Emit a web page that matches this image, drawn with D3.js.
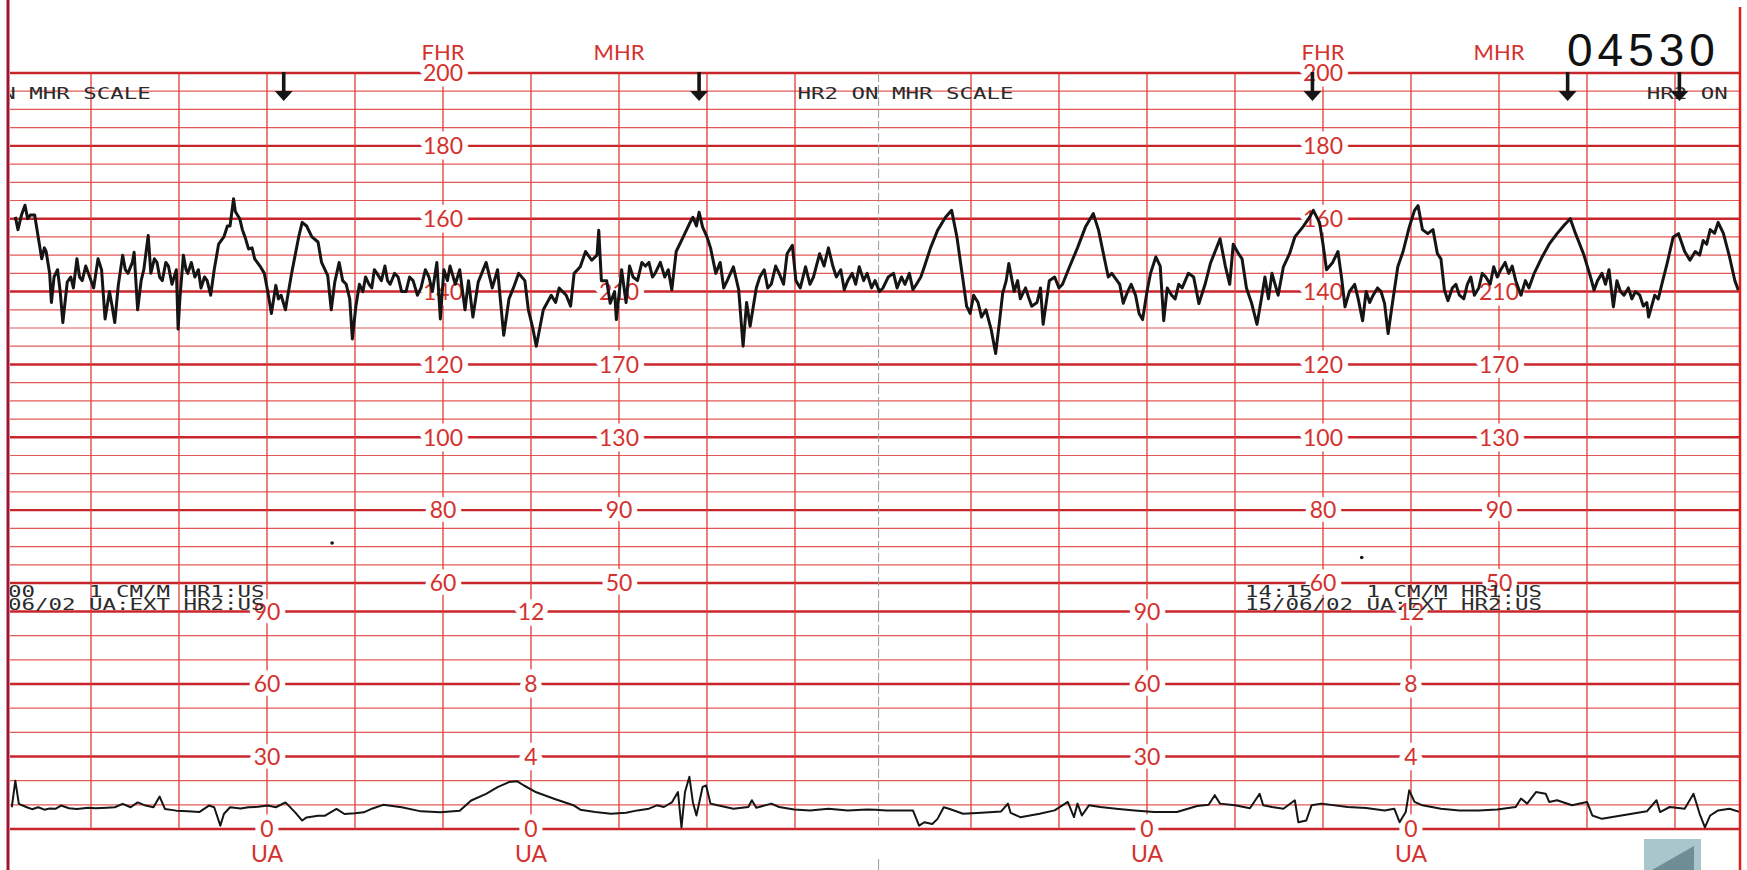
<!DOCTYPE html>
<html>
<head>
<meta charset="utf-8">
<script src="https://cdn.jsdelivr.net/npm/d3@7"></script>
<style>
html, body { margin: 0; padding: 0; background: #fff; }
svg { display: block; }
</style>
</head>
<body>
<div id="chart"></div>
<script>

// foetal heart rate trace, [minute, bpm]
var fhr = [
 [0.14,160.5],[0.17,157],[0.21,161],[0.25,163.7],[0.28,160],[0.31,161],[0.36,161],[0.40,155],[0.44,149],[0.47,152],
 [0.49,151],[0.53,145],[0.55,137],[0.58,144],[0.62,146],[0.65,140],[0.68,131.5],[0.73,142.6],[0.77,144],[0.80,141],
 [0.84,149],[0.87,144],[0.90,143],[0.94,147],[0.97,145],[1.03,141],[1.08,149],[1.12,146],[1.16,132.5],[1.21,140],
 [1.24,136],[1.27,131.5],[1.31,141.7],[1.36,150],[1.39,146],[1.42,145],[1.47,148],[1.49,150.8],[1.53,135],[1.57,143],
 [1.60,146],[1.65,155.4],[1.68,145],[1.72,149],[1.75,148],[1.78,144],[1.81,143],[1.85,148],[1.88,147],[1.92,142],
 [1.97,146],[1.99,129.7],[2.01,138],[2.05,150],[2.08,146],[2.10,145],[2.14,148],[2.18,144],[2.22,146],[2.25,141],
 [2.29,144],[2.32,143],[2.36,139],[2.40,146],[2.45,153],[2.51,155],[2.55,158],[2.58,158],[2.62,165.5],[2.64,162],
 [2.69,160],[2.72,157],[2.75,155],[2.79,151.7],[2.83,152],[2.86,149],[2.92,147],[2.97,145],[3.01,139.8],[3.05,134],
 [3.10,141.7],[3.13,138],[3.16,139],[3.21,135],[3.23,138],[3.28,145],[3.32,150],[3.36,155],[3.40,159],[3.45,158],
 [3.51,155],[3.58,153.6],[3.62,148],[3.69,144.4],[3.73,135],[3.77,142.6],[3.82,148],[3.86,143],[3.90,142],[3.94,138],
 [3.97,127],[4.01,136],[4.05,142],[4.09,140],[4.12,144],[4.16,142],[4.19,141],[4.22,146],[4.25,145],[4.30,143],
 [4.34,147],[4.37,143],[4.40,142],[4.45,145],[4.49,144],[4.53,140],[4.58,140],[4.62,144],[4.66,143],[4.71,139],
 [4.75,141],[4.80,146],[4.84,144],[4.88,140],[4.93,148],[4.97,132.5],[5.01,146],[5.05,143],[5.08,147],[5.14,142],
 [5.19,146],[5.25,135],[5.29,143],[5.34,133],[5.40,142.6],[5.44,145],[5.49,148],[5.56,141],[5.62,146],[5.69,128],
 [5.75,138],[5.80,141],[5.86,145],[5.93,143],[5.97,135],[6.02,130],[6.06,125],[6.14,135],[6.23,139],[6.28,137],
 [6.32,141],[6.40,139],[6.45,136],[6.49,145],[6.56,146.8],[6.62,151],[6.69,148.6],[6.75,150],[6.77,156.8],[6.80,143],
 [6.86,143],[6.90,136.8],[6.95,140],[6.97,132.3],[7.03,146],[7.08,137],[7.12,147],[7.16,144],[7.21,143],[7.26,148],
 [7.30,147],[7.34,148],[7.38,144],[7.41,145],[7.47,148],[7.52,144],[7.56,146],[7.60,140.5],[7.65,151],[7.73,155],
 [7.80,158.6],[7.84,160.4],[7.88,158],[7.91,161.8],[7.95,157.7],[8.00,155],[8.04,152],[8.10,145],[8.15,148],[8.19,141],
 [8.23,143],[8.30,146.8],[8.36,140.5],[8.41,125],[8.45,137],[8.49,130.5],[8.56,141],[8.60,144],[8.65,146],[8.69,141],
 [8.73,142],[8.78,147],[8.82,145],[8.87,142],[8.91,150.4],[8.97,152.7],[9.01,143],[9.06,141],[9.12,146.8],[9.17,142],
 [9.21,144],[9.28,150.4],[9.33,147],[9.38,152],[9.43,147],[9.47,144],[9.52,146],[9.56,140.5],[9.60,143],[9.65,145],
 [9.69,142],[9.73,146.8],[9.78,143],[9.82,145],[9.87,141],[9.91,143],[9.96,140],[10.0,141],[10.06,144],[10.12,145],
 [10.16,141],[10.21,144],[10.25,142],[10.30,145],[10.34,140.5],[10.38,142],[10.43,144],[10.47,146.8],[10.54,152],
 [10.62,156.8],[10.71,160.4],[10.78,162.3],[10.84,155],[10.91,143],[10.95,136],[10.99,134],[11.03,139],[11.08,137],
 [11.12,133],[11.17,135],[11.23,129.5],[11.28,123],[11.32,131],[11.36,139.5],[11.40,143],[11.43,147.7],[11.49,140],
 [11.53,143],[11.56,138],[11.62,141],[11.66,138],[11.69,136],[11.75,137],[11.79,141],[11.82,131],[11.89,143],
 [11.95,144],[12.00,141],[12.04,142],[12.12,146.8],[12.21,152],[12.30,157.7],[12.39,161.4],[12.45,156.8],[12.52,148.6],
 [12.56,144],[12.60,145],[12.69,142],[12.73,136.8],[12.78,140],[12.82,142],[12.87,139],[12.91,134],[12.95,132.3],
 [13.00,140],[13.04,145],[13.10,149.5],[13.15,147],[13.19,132],[13.23,141],[13.28,139],[13.32,138],[13.36,142],
 [13.40,141],[13.47,145],[13.53,144],[13.59,136.7],[13.66,142],[13.72,147.7],[13.79,152],[13.83,154.5],[13.89,147],
 [13.94,142],[13.98,153],[14.04,150.4],[14.08,149],[14.13,141],[14.19,136.7],[14.25,131],[14.30,138],[14.34,144],
 [14.38,138],[14.42,145],[14.49,139],[14.55,146.8],[14.62,150.4],[14.68,155],[14.77,157.7],[14.85,160.5],[14.89,162.3],
 [14.96,159],[15.00,153],[15.04,146],[15.11,148],[15.17,151],[15.21,144],[15.25,135.8],[15.30,140],[15.36,142],
 [15.40,138],[15.45,132],[15.49,140],[15.53,137],[15.57,139],[15.62,141],[15.66,140],[15.70,136.7],[15.74,128.5],
 [15.79,137],[15.85,146.8],[15.91,151],[15.98,157.7],[16.04,162.3],[16.08,163.6],[16.13,157],[16.19,155.9],[16.25,157],
 [16.30,150.4],[16.34,149],[16.38,140.4],[16.42,137.5],[16.47,141],[16.51,142],[16.55,139],[16.60,138],[16.64,142],
 [16.68,144],[16.72,139],[16.77,141],[16.81,145],[16.85,144],[16.90,142],[16.94,146.8],[16.98,144],[17.02,146],
 [17.07,148],[17.11,145],[17.15,147],[17.19,143],[17.25,139],[17.30,143],[17.34,141],[17.40,145],[17.49,149.5],
 [17.57,153],[17.66,155.9],[17.74,158.2],[17.81,160],[17.87,155.9],[17.96,150.4],[18.04,144],[18.08,140.4],[18.12,143],
 [18.17,145],[18.21,142],[18.25,146],[18.30,135.8],[18.34,143],[18.38,140],[18.42,139],[18.47,141],[18.51,138],
 [18.55,140],[18.60,139],[18.64,136],[18.68,137],[18.70,133],[18.77,139],[18.81,138],[18.85,142],[18.91,147.7],
 [18.98,155],[19.04,155.9],[19.11,151],[19.17,148.6],[19.23,151],[19.28,150],[19.32,154],[19.36,153],[19.40,157],
 [19.45,156],[19.49,159],[19.55,156],[19.62,149.5],[19.68,143],[19.72,140.4]
];

// uterine activity trace, [minute, mmHg]
var ua = [
 [0.10,9],[0.14,20],[0.18,10.4],[0.27,9],[0.33,8.2],[0.40,9],[0.47,8],[0.53,8.5],[0.60,8.4],[0.66,9.7],[0.75,8.6],
 [0.84,8.3],[0.97,8.8],[1.05,8.6],[1.18,8.8],[1.27,9],[1.36,10.4],[1.45,9],[1.53,11],[1.62,9.7],[1.71,9],[1.78,13.4],
 [1.84,8.3],[1.97,7.6],[2.10,7.3],[2.23,7],[2.34,9.7],[2.40,9],[2.47,1.4],[2.51,6.2],[2.58,9],[2.70,8.5],[2.79,9],
 [2.90,9.2],[3.01,9.7],[3.10,9],[3.21,11],[3.32,6.9],[3.40,3.5],[3.45,4.8],[3.58,5.5],[3.66,5.5],[3.79,8.3],[3.88,6.2],
 [4.00,6.5],[4.10,6.9],[4.20,8.5],[4.32,10],[4.53,9],[4.75,7.3],[4.97,6.9],[5.19,7.6],[5.32,11.8],[5.49,14.5],
 [5.62,17.3],[5.75,19.4],[5.84,19.8],[5.92,18],[6.06,15.2],[6.27,12.4],[6.49,9.7],[6.56,8],[6.73,7],[6.91,6.3],
 [7.08,6.7],[7.21,7.7],[7.34,8.4],[7.43,9.8],[7.51,9.1],[7.60,11],[7.67,15.3],[7.71,0.7],[7.75,15.3],[7.80,21.6],
 [7.84,11],[7.88,5.6],[7.95,17.4],[7.99,18],[8.04,10.5],[8.12,9.8],[8.30,8.4],[8.47,9.1],[8.51,11.9],[8.56,8.8],
 [8.73,10.5],[8.82,9.1],[8.99,8.1],[9.17,7.7],[9.38,8.4],[9.60,7.7],[9.82,8.1],[9.91,8],[10.04,7.7],[10.34,7.7],
 [10.41,1.4],[10.47,2.8],[10.56,2.1],[10.62,4.2],[10.69,9],[10.75,8.4],[10.91,6.3],[11.12,6.7],[11.34,7.2],[11.42,10.5],
 [11.45,6.7],[11.56,4.9],[11.78,6.3],[11.95,7.7],[12.10,11.2],[12.17,4.9],[12.21,10.5],[12.26,5.6],[12.34,9.8],
 [12.47,9.1],[12.65,8.4],[12.86,7.7],[13.08,7],[13.34,7],[13.57,9.5],[13.70,10],[13.77,14],[13.83,10.5],[14.00,9.8],
 [14.17,8.6],[14.28,14.6],[14.32,9.8],[14.42,9.1],[14.55,8.4],[14.68,11.9],[14.72,2.8],[14.81,3.5],[14.87,9.8],
 [14.98,10.5],[15.28,9.1],[15.49,8.7],[15.70,7.7],[15.81,8.4],[15.87,2.8],[15.94,7],[15.98,16],[16.04,11.2],[16.13,9.8],
 [16.34,8.4],[16.55,7.7],[16.77,7.7],[16.98,8.1],[17.19,9.1],[17.25,12.6],[17.32,10.5],[17.42,15.3],[17.53,14.6],
 [17.57,11.2],[17.66,11.9],[17.83,9.8],[18.00,11.2],[18.06,5.6],[18.17,4.2],[18.34,5.3],[18.51,6.3],[18.68,7.3],
 [18.79,11.9],[18.83,7],[18.94,9.1],[19.11,8.4],[19.21,14.6],[19.28,6.3],[19.34,0.7],[19.40,5.6],[19.49,7.7],
 [19.62,8.4],[19.74,7]
];

// scale labels of the printed paper
var fhrTicks = [200, 180, 160, 140, 120, 100, 80, 60];
var mhrTicks = [210, 170, 130, 90, 50];
var uaTicks = [90, 60, 30, 0];
var kpaTicks = [12, 8, 4, 0];

// each page repeats the labels, minutes of the label columns
var pageOffsets = [0, 10];
var fhrColumn = 5, mhrColumn = 7, uaColumn = 3, kpaColumn = 6;

// event marks (arrows) and stray print dots
var markTimes = [3.19, 7.91, 14.88, 17.78, 19.05];
var printDots = [[3.74, 71], [15.44, 67]];

// printer notes
var topNotes = [
    {t: 1.68, anchor: 'end', text: 'HR2 ON MHR SCALE'},
    {t: 9.03, anchor: 'start', text: 'HR2 ON MHR SCALE'},
    {t: 18.68, anchor: 'start', text: 'HR2 ON'}
];
var bottomNotes = [
    {t: 2.97, anchor: 'end', lines: ['14:00    1 CM/M HR1:US', '15/06/02 UA:EXT HR2:US']},
    {t: 17.49, anchor: 'end', lines: ['14:15    1 CM/M HR1:US', '15/06/02 UA:EXT HR2:US']}
];
var stripNumber = '04530';
var pageBreak = 9.95;


function drawStrip(){

    var width = 1747,
        height = 870,
        left = 10,
        right = 1740;

    var red = '#dd3c38',
        redMajor = '#c8262a',
        redText = '#d4322e',
        ink = '#151515';

    var svg = d3.select('#chart')
        .append('svg')
        .attr('width', width)
        .attr('height', height);

    svg.append('rect')
        .attr('width', width)
        .attr('height', height)
        .attr('fill', '#fff');

    //minutes across the paper, 1 cm/min
    var x = d3.scaleLinear().domain([0, 20]).range([3, 1763]);
    //FHR panel
    var yF = d3.scaleLinear().domain([60, 200]).range([583, 73]);
    //MHR sits on the same lines
    var yM = d3.scaleLinear().domain([50, 210]).range([yF(60), yF(140)]);
    //UA panel, mmHg and kPa
    var yU = d3.scaleLinear().domain([0, 90]).range([829, 611.5]);
    var yK = d3.scaleLinear().domain([0, 12]).range([yU(0), yU(90)]);

    var grid = svg.append('g').attr('class', 'grid');

    //horizontal lines of FHR panel
    grid.selectAll('.hf')
        .data(d3.range(60, 201, 5))
        .enter()
        .append('line')
        .attr('x1', left).attr('x2', right)
        .attr('y1', function (d) { return yF(d); })
        .attr('y2', function (d) { return yF(d); })
        .attr('stroke', function (d) { return d % 20 === 0 ? redMajor : red; })
        .attr('stroke-width', function (d) { return d % 20 === 0 ? 2.4 : 1.2; })
        .attr('stroke-opacity', function (d) { return d % 20 === 0 ? 1 : 0.85; });

    //horizontal lines of UA panel
    grid.selectAll('.hu')
        .data(d3.range(0, 91, 10))
        .enter()
        .append('line')
        .attr('x1', left).attr('x2', right)
        .attr('y1', function (d) { return yU(d); })
        .attr('y2', function (d) { return yU(d); })
        .attr('stroke', function (d) { return d % 30 === 0 ? redMajor : red; })
        .attr('stroke-width', function (d) { return d % 30 === 0 ? 2.4 : 1.2; })
        .attr('stroke-opacity', function (d) { return d % 30 === 0 ? 1 : 0.85; });

    //minute lines
    grid.selectAll('.v')
        .data(d3.range(1, 20).filter(function (d) { return d !== 10; }))
        .enter()
        .append('line')
        .attr('x1', function (d) { return x(d); })
        .attr('x2', function (d) { return x(d); })
        .attr('y1', yF(200))
        .attr('y2', yU(0))
        .attr('stroke', red)
        .attr('stroke-width', 1.3);

    //the join between two pages
    grid.append('line')
        .attr('x1', x(pageBreak)).attr('x2', x(pageBreak))
        .attr('y1', yF(200)).attr('y2', yU(0))
        .attr('stroke', '#9a9a9a')
        .attr('stroke-width', 1)
        .attr('stroke-dasharray', '9,3');
    grid.append('line')
        .attr('x1', x(pageBreak)).attr('x2', x(pageBreak))
        .attr('y1', height - 11).attr('y2', height)
        .attr('stroke', '#9a9a9a')
        .attr('stroke-width', 1);

    //red scale labels, white halo cuts the lines
    var labels = svg.append('g')
        .attr('font-family', 'Lato, "Open Sans", sans-serif')
        .attr('fill', redText)
        .attr('text-anchor', 'middle')
        .style('paint-order', 'stroke')
        .attr('stroke', '#fff')
        .attr('stroke-width', 11)
        .attr('stroke-linejoin', 'round');

    function column(t, ticks, scale){
        labels.selectAll(null)
            .data(ticks)
            .enter()
            .append('text')
            .attr('x', x(t))
            .attr('y', function (d) { return scale(d); })
            .attr('dy', '0.36em')
            .attr('font-size', 23)
            .text(function (d) { return d; });
    }

    pageOffsets.forEach(function (p) {
        column(p + fhrColumn, fhrTicks, yF);
        column(p + mhrColumn, mhrTicks, yM);
        column(p + uaColumn, uaTicks, yU);
        column(p + kpaColumn, kpaTicks, yK);

        labels.append('text')
            .attr('x', x(p + fhrColumn)).attr('y', yF(200) - 13)
            .attr('font-size', 22).attr('stroke-width', 0)
            .text('FHR');
        labels.append('text')
            .attr('x', x(p + mhrColumn)).attr('y', yF(200) - 13)
            .attr('font-size', 22).attr('stroke-width', 0)
            .text('MHR');
        [uaColumn, kpaColumn].forEach(function (c) {
            labels.append('text')
                .attr('x', x(p + c)).attr('y', yU(0) + 33)
                .attr('font-size', 23).attr('stroke-width', 0)
                .text('UA');
        });
    });

    //thermal printer notes
    var clip = svg.append('clipPath').attr('id', 'paper');
    clip.append('rect')
        .attr('x', left).attr('y', 0)
        .attr('width', right - left).attr('height', height);

    var notes = svg.append('g')
        .attr('clip-path', 'url(#paper)')
        .attr('font-family', '"DejaVu Sans Mono", monospace')
        .attr('font-size', 16)
        .attr('fill', '#2b2b2b');

    var charW = 13.5;
    //keep the printer's runs of spaces
    function keepSpaces(s){ return s.replace(/ /g, '\u00a0'); }

    topNotes.forEach(function (n) {
        notes.append('text')
            .attr('x', x(n.t))
            .attr('y', yF(200) + 26)
            .attr('text-anchor', n.anchor)
            .attr('textLength', n.text.length * charW)
            .attr('lengthAdjust', 'spacingAndGlyphs')
            .text(keepSpaces(n.text));
    });

    bottomNotes.forEach(function (n) {
        n.lines.forEach(function (s, i) {
            notes.append('text')
                .attr('x', x(n.t))
                .attr('y', yU(90) - 15 + i * 13)
                .attr('text-anchor', n.anchor)
                .attr('textLength', s.length * charW)
                .attr('lengthAdjust', 'spacingAndGlyphs')
                .text(keepSpaces(s));
        });
    });

    //stray dots
    svg.selectAll('.dot')
        .data(printDots)
        .enter()
        .append('circle')
        .attr('cx', function (d) { return x(d[0]); })
        .attr('cy', function (d) { return yF(d[1]); })
        .attr('r', 1.8)
        .attr('fill', ink);

    //event arrows
    var arrows = svg.selectAll('.mark')
        .data(markTimes)
        .enter()
        .append('g')
        .attr('transform', function (d) { return 'translate(' + x(d) + ',' + yF(200) + ')'; });
    arrows.append('line')
        .attr('x1', 0).attr('x2', 0)
        .attr('y1', -1).attr('y2', 20)
        .attr('stroke', ink)
        .attr('stroke-width', 3.6);
    arrows.append('path')
        .attr('d', 'M-9,18 L9,18 L0,28 Z')
        .attr('fill', ink);

    //traces
    var fhrLine = d3.line()
        .x(function (d) { return x(d[0]); })
        .y(function (d) { return yF(d[1]); });

    var uaLine = d3.line()
        .x(function (d) { return x(d[0]); })
        .y(function (d) { return yU(d[1]); });

    svg.append('path')
        .datum(fhr)
        .attr('d', fhrLine)
        .attr('fill', 'none')
        .attr('stroke', ink)
        .attr('stroke-width', 3)
        .attr('stroke-linejoin', 'round');

    svg.append('path')
        .datum(ua)
        .attr('d', uaLine)
        .attr('fill', 'none')
        .attr('stroke', ink)
        .attr('stroke-width', 2)
        .attr('stroke-linejoin', 'round');

    //strip number
    svg.append('text')
        .attr('x', 1567).attr('y', 66)
        .attr('font-family', '"Liberation Sans", Arial, sans-serif')
        .attr('font-size', 46)
        .attr('letter-spacing', 5)
        .attr('fill', '#111')
        .text(stripNumber);

    //paper edges
    svg.append('line')
        .attr('x1', 8).attr('x2', 8)
        .attr('y1', 0).attr('y2', height)
        .attr('stroke', '#9c1431')
        .attr('stroke-width', 3);
    svg.append('line')
        .attr('x1', right).attr('x2', right)
        .attr('y1', 7).attr('y2', height)
        .attr('stroke', '#e0201c')
        .attr('stroke-width', 2.5);

    //viewer button in the corner
    var btn = svg.append('g');
    btn.append('rect')
        .attr('x', 1644).attr('y', 839)
        .attr('width', 57).attr('height', 31)
        .attr('fill', '#a9c6cd');
    btn.append('path')
        .attr('d', 'M1652,870 L1694,846 L1694,870 Z')
        .attr('fill', '#6f8d94');
};

window.onload = drawStrip();
</script>
</body>
</html>
